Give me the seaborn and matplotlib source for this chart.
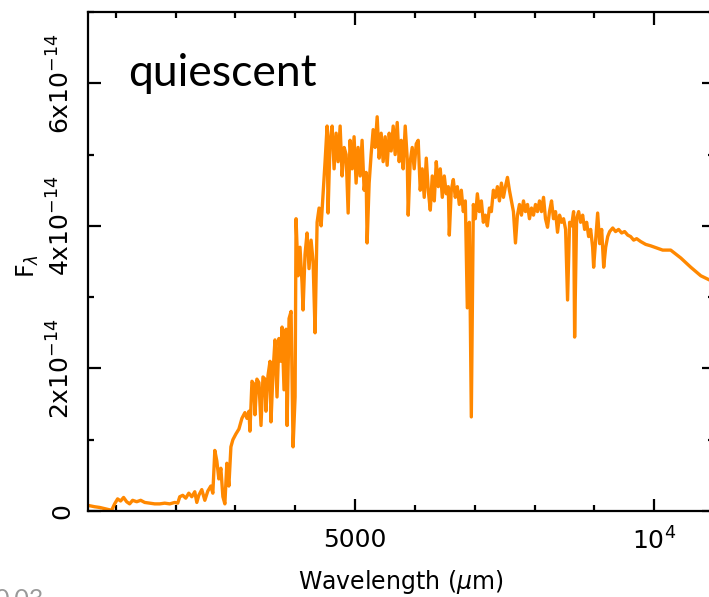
import numpy as np
import matplotlib
matplotlib.use("Agg")
import matplotlib.pyplot as plt
import seaborn as sns
from matplotlib.ticker import MultipleLocator

# wavelength (Angstrom as drawn on the axis) and flux in units of 1e-14
wavelength = [
    528, 645, 729, 829, 930, 980, 1030, 1080, 1130, 1181, 1231, 1281, 1349, 1416,
    1483, 1566, 1650, 1734, 1817, 1901, 1985, 2035, 2069, 2119, 2169, 2220, 2270,
    2320, 2354, 2387, 2437, 2488, 2538, 2588, 2622, 2655, 2689, 2722, 2756, 2790,
    2823, 2856, 2890, 2924, 2957, 3007, 3058, 3108, 3158, 3192, 3226, 3242, 3276,
    3309, 3326, 3359, 3393, 3427, 3460, 3494, 3510, 3544, 3578, 3594, 3628, 3661,
    3695, 3728, 3762, 3779, 3812, 3846, 3863, 3896, 3930, 3963, 3997, 4013, 4047,
    4079, 4113, 4130, 4163, 4197, 4230, 4264, 4298, 4331, 4365, 4398, 4432, 4465,
    4498, 4532, 4548, 4582, 4616, 4649, 4683, 4716, 4750, 4783, 4817, 4850, 4884,
    4916, 4950, 4983, 5017, 5050, 5084, 5117, 5151, 5184, 5201, 5235, 5268, 5302,
    5335, 5369, 5402, 5436, 5469, 5503, 5536, 5570, 5603, 5637, 5670, 5704, 5737,
    5771, 5804, 5838, 5871, 5888, 5921, 5955, 5988, 6022, 6055, 6089, 6122, 6156,
    6190, 6223, 6257, 6290, 6324, 6357, 6391, 6424, 6458, 6491, 6525, 6558, 6575,
    6608, 6642, 6675, 6709, 6742, 6776, 6809, 6843, 6876, 6910, 6943, 6977, 7010,
    7044, 7077, 7111, 7144, 7178, 7211, 7245, 7278, 7312, 7346, 7379, 7413, 7446,
    7480, 7513, 7547, 7580, 7614, 7647, 7681, 7714, 7748, 7781, 7815, 7848, 7882,
    7915, 7949, 7982, 8016, 8049, 8083, 8116, 8150, 8183, 8217, 8250, 8284, 8317,
    8351, 8384, 8418, 8452, 8485, 8519, 8552, 8586, 8619, 8653, 8670, 8703, 8737,
    8770, 8804, 8837, 8871, 8904, 8938, 8971, 8988, 9022, 9055, 9089, 9122, 9156,
    9189, 9223, 9256, 9307, 9355, 9405, 9456, 9506, 9558, 9606, 9657, 9707, 9774,
    9858, 9941, 10042, 10142, 10276, 10444, 10611, 10779, 10930, 11000,
]
flux = [
    0.08, 0.06, 0.05, 0.03, 0.01, 0.10, 0.17, 0.14, 0.19, 0.13, 0.10, 0.15, 0.13, 0.15,
    0.12, 0.11, 0.10, 0.10, 0.11, 0.10, 0.12, 0.11, 0.20, 0.22, 0.18, 0.25, 0.20,
    0.27, 0.12, 0.22, 0.30, 0.15, 0.28, 0.35, 0.25, 0.85, 0.70, 0.45, 0.60, 0.20,
    0.10, 0.67, 0.35, 0.90, 1.00, 1.08, 1.15, 1.30, 1.38, 1.30, 1.40, 1.12, 1.82,
    1.78, 1.35, 1.85, 1.80, 1.20, 1.88, 1.85, 1.40, 1.90, 2.10, 1.25, 1.95, 2.40,
    1.60, 2.42, 2.10, 2.58, 1.70, 2.55, 1.20, 2.70, 2.80, 0.90, 1.60, 4.10, 3.30,
    3.70, 3.20, 2.82, 3.60, 3.90, 3.40, 3.80, 3.50, 2.50, 4.05, 4.25, 4.00, 4.45,
    4.90, 5.40, 4.18, 5.20, 5.40, 4.80, 5.30, 4.90, 5.40, 4.70, 5.10, 5.00, 4.18,
    5.20, 4.80, 5.25, 4.60, 5.10, 4.70, 5.20, 4.50, 4.75, 3.76, 4.60, 5.00, 5.35,
    5.10, 5.53, 4.95, 5.30, 4.90, 5.25, 4.85, 5.30, 5.05, 5.40, 5.00, 5.45, 4.90,
    5.20, 4.80, 5.40, 4.95, 4.15, 4.90, 5.10, 4.80, 5.15, 5.20, 4.50, 4.80, 4.40,
    4.95, 4.50, 4.22, 4.70, 4.35, 4.90, 4.55, 4.80, 4.40, 4.70, 4.45, 4.55, 3.87,
    4.50, 4.65, 4.40, 4.55, 4.30, 4.50, 4.20, 4.35, 2.85, 4.05, 1.32, 4.30, 4.10,
    4.45, 4.20, 4.35, 4.05, 4.15, 4.00, 4.25, 4.20, 4.50, 4.40, 4.55, 4.35, 4.60,
    4.40, 4.55, 4.68, 4.50, 4.35, 4.20, 3.76, 4.15, 4.30, 4.15, 4.35, 4.20, 4.30,
    4.10, 4.25, 4.15, 4.30, 4.20, 4.35, 4.20, 4.40, 4.10, 3.98, 4.20, 4.35, 4.10,
    4.20, 3.91, 4.15, 4.05, 4.10, 3.95, 2.96, 4.05, 4.00, 4.20, 2.44, 4.10, 4.20,
    4.05, 4.15, 3.95, 4.05, 3.85, 3.95, 3.70, 3.42, 3.80, 4.18, 3.75, 3.95, 3.42,
    3.70, 3.85, 3.92, 3.97, 3.92, 3.95, 3.90, 3.92, 3.87, 3.85, 3.80, 3.82, 3.78,
    3.74, 3.72, 3.69, 3.66, 3.66, 3.55, 3.42, 3.30, 3.24, 3.18,
]

y_ticks = [0, 2e-14, 4e-14, 6e-14]
y_labels = ["0", r"2x10$^{-14}$", r"4x10$^{-14}$", r"6x10$^{-14}$"]
x_ticks = [5000, 10000]
x_labels = ["5000", r"10$^4$"]

sns.set_style("ticks")
plt.rcParams["font.family"] = ["DejaVu Sans"]
plt.rcParams["text.color"] = "black"
plt.rcParams["axes.labelcolor"] = "black"

fig = plt.figure(figsize=(7.09, 5.97), dpi=100)
W, H = 709, 597
ax = fig.add_axes([88 / W, (H - 511) / H, 626 / W, 499 / H])

df_flux = np.array(flux) * 1e-14
sns.lineplot(x=wavelength, y=df_flux, ax=ax, color="#ff8800", linewidth=2.4,
             sort=False, estimator=None)

ax.set_xlim(535, 11000)
ax.set_ylim(0, 7e-14)
ax.set_xticks(x_ticks)
ax.set_xticklabels(x_labels)
ax.set_yticks(y_ticks)
ax.set_yticklabels(y_labels, rotation=90, va="center")
ax.xaxis.set_minor_locator(MultipleLocator(1000))
ax.yaxis.set_minor_locator(MultipleLocator(1e-14))
ax.tick_params(which="both", direction="in", top=True, right=True, width=1.6,
               colors="black", labelcolor="black", labelsize=18)
ax.tick_params(which="major", length=9)
ax.tick_params(which="minor", length=4.5)
ax.tick_params(axis="x", pad=12)
ax.tick_params(axis="y", pad=10)
for s in ax.spines.values():
    s.set_linewidth(1.6)
    s.set_color("black")

ax.set_xlabel(r"Wavelength ($\mu$m)", fontsize=17, color="black")
ax.set_ylabel(r"F$_\lambda$", fontsize=17, color="black")
ax.xaxis.set_label_coords(0.5, -0.115)
ax.yaxis.set_label_coords(-0.075, 0.49)

ax.text(128, H - 86, "quiescent", transform=None, fontsize=32, family="Lato",
        va="baseline", ha="left", color="black")
fig.text(-0.008, 0.015, "0.03", fontsize=18, family="Lato", color="#999999",
         va="top", ha="left")

fig.savefig("out.png", dpi=100)
